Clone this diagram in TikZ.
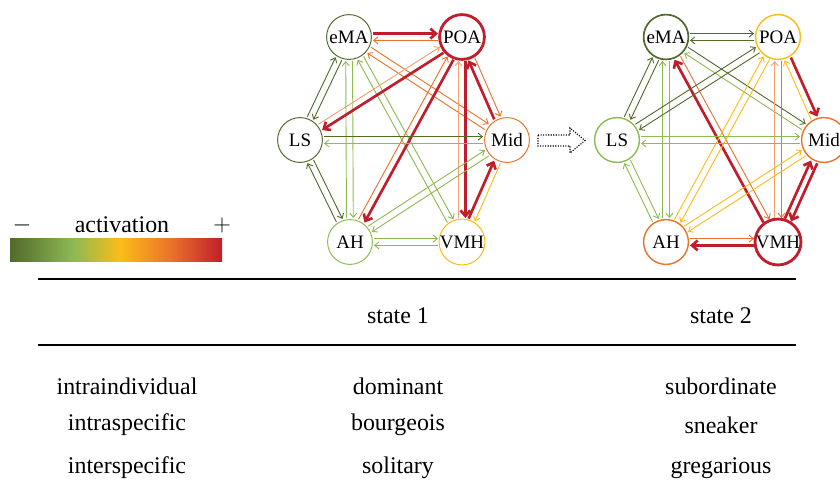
\documentclass[tikz,border=0pt]{standalone}
\usepackage{fontspec}
\setmainfont{Liberation Serif}
\usepackage{tikz}
\usetikzlibrary{arrows.meta,calc}

\definecolor{cdg}{RGB}{82,106,44}
\definecolor{clg}{RGB}{142,186,82}
\definecolor{cyl}{RGB}{252,188,24}
\definecolor{cor}{RGB}{234,114,42}
\definecolor{cpe}{RGB}{242,160,110}
\definecolor{crd}{RGB}{192,30,44}

\pgfdeclarehorizontalshading{activation}{100bp}{color(0bp)=(cdg); color(25bp)=(cdg); color(40bp)=(clg); color(51bp)=(cyl); color(63bp)=(cor); color(75bp)=(crd); color(100bp)=(crd)}

\tikzset{
  region/.style={circle, draw, minimum size=1.12cm, inner sep=0pt, line width=0.7pt, font=\fontsize{13.5}{15}\selectfont},
  lo/.style={-{Straight Barb[length=3pt,width=5pt]}, line width=0.65pt},
  hi/.style={-{Straight Barb[length=4pt,width=7pt]}, line width=1.9pt, draw=crd},
  lbl/.style={font=\fontsize{17}{20}\selectfont},
}

% paired link, drawn on the left of its direction
\newcommand{\link}[3]{\draw[#1, shorten <=0.6cm, shorten >=0.6cm]
  ($(#2)!0.085cm!90:(#3)$) -- ($(#3)!0.085cm!-90:(#2)$);}

\begin{document}
\begin{tikzpicture}[x=0.025cm,y=-0.025cm]
\useasboundingbox (0,0) rectangle (840,494);

% activation scale
\node[lbl] (minus) at (22,225) {$-$};
\node[lbl] (act) at (122,225) {activation};
\node[lbl] (plus) at (222,225) {$+$};
\shade[shading=activation] (10,238) rectangle (222,261);

% state 1
\node[region, draw=cdg] (s1ema) at (349,37) {eMA};
\node[region, draw=crd, line width=2pt] (s1poa) at (462,37) {POA};
\node[region, draw=cdg] (s1ls) at (300,140) {LS};
\node[region, draw=cor] (s1mid) at (507,140) {Mid};
\node[region, draw=clg] (s1ah) at (350,242) {AH};
\node[region, draw=cyl] (s1vmh) at (462,242) {VMH};

\link{hi}{s1ema}{s1poa}
\link{lo,cor}{s1poa}{s1ema}
\link{lo,cdg}{s1ema}{s1ls}
\link{lo,cdg}{s1ls}{s1ema}
\link{lo,clg}{s1ema}{s1ah}
\link{lo,clg}{s1ah}{s1ema}
\link{lo,clg}{s1ema}{s1vmh}
\link{lo,clg}{s1vmh}{s1ema}
\link{lo,cor}{s1ema}{s1mid}
\link{lo,cor}{s1mid}{s1ema}
\link{hi}{s1poa}{s1ls}
\link{lo,cpe}{s1ls}{s1poa}
\link{hi}{s1poa}{s1ah}
\link{lo,cor}{s1ah}{s1poa}
\link{hi}{s1poa}{s1vmh}
\link{lo,cpe}{s1vmh}{s1poa}
\link{hi}{s1mid}{s1poa}
\link{lo,cor}{s1poa}{s1mid}
\link{lo,cdg}{s1ls}{s1mid}
\link{lo,clg}{s1mid}{s1ls}
\link{lo,cdg}{s1ls}{s1ah}
\link{lo,cdg}{s1ah}{s1ls}
\link{lo,clg}{s1mid}{s1ah}
\link{lo,clg}{s1ah}{s1mid}
\link{hi}{s1vmh}{s1mid}
\link{lo,cyl}{s1mid}{s1vmh}
\link{lo,clg}{s1ah}{s1vmh}
\link{lo,clg}{s1vmh}{s1ah}

% transition
\draw[densely dotted, line width=0.8pt] (538,135) -- (570,135) -- (570,128) -- (585,140.5)
  -- (570,153) -- (570,146) -- (538,146) -- cycle;

% state 2
\node[region, draw=cdg, line width=1.2pt] (s2ema) at (666,37) {eMA};
\node[region, draw=cyl, line width=1pt] (s2poa) at (778,37) {POA};
\node[region, draw=clg, line width=1pt] (s2ls) at (617,140) {LS};
\node[region, draw=cor, line width=1pt] (s2mid) at (824,140) {Mid};
\node[region, draw=cor, line width=1pt] (s2ah) at (666,242) {AH};
\node[region, draw=crd, line width=2pt] (s2vmh) at (778,242) {VMH};

\link{lo,cdg}{s2ema}{s2poa}
\link{lo,cdg}{s2poa}{s2ema}
\link{lo,cdg}{s2ema}{s2ls}
\link{lo,cdg}{s2ls}{s2ema}
\link{lo,clg}{s2ema}{s2ah}
\link{lo,clg}{s2ah}{s2ema}
\link{hi}{s2vmh}{s2ema}
\link{lo,cor}{s2ema}{s2vmh}
\link{lo,cdg}{s2ema}{s2mid}
\link{lo,clg}{s2mid}{s2ema}
\link{lo,cdg}{s2poa}{s2ls}
\link{lo,cdg}{s2ls}{s2poa}
\link{lo,cyl}{s2poa}{s2ah}
\link{lo,cyl}{s2ah}{s2poa}
\link{lo,cor}{s2poa}{s2vmh}
\link{lo,cpe}{s2vmh}{s2poa}
\link{hi}{s2poa}{s2mid}
\link{lo,cyl}{s2mid}{s2poa}
\link{lo,clg}{s2ls}{s2mid}
\link{lo,clg}{s2mid}{s2ls}
\link{lo,clg}{s2ls}{s2ah}
\link{lo,clg}{s2ah}{s2ls}
\link{lo,cyl}{s2mid}{s2ah}
\link{lo,cyl}{s2ah}{s2mid}
\link{hi}{s2mid}{s2vmh}
\link{hi}{s2vmh}{s2mid}
\link{lo,cor}{s2ah}{s2vmh}
\link{hi}{s2vmh}{s2ah}

% table
\draw[line width=1pt] (38,279) -- (796,279);
\draw[line width=1pt] (38,345) -- (796,345);
\node[lbl] (h1) at (398,316) {state 1};
\node[lbl] (h2) at (721,316) {state 2};

\node[lbl] (r1) at (127,386) {intraindividual};
\node[lbl] (r2) at (127,425) {intraspecific};
\node[lbl] (r3) at (127,468) {interspecific};
\node[lbl] (a1) at (398,386) {dominant};
\node[lbl] (a2) at (398,425) {bourgeois};
\node[lbl] (a3) at (398,468) {solitary};
\node[lbl] (b1) at (721,386) {subordinate};
\node[lbl] (b2) at (721,425) {sneaker};
\node[lbl] (b3) at (721,468) {gregarious};
\end{tikzpicture}
\end{document}
